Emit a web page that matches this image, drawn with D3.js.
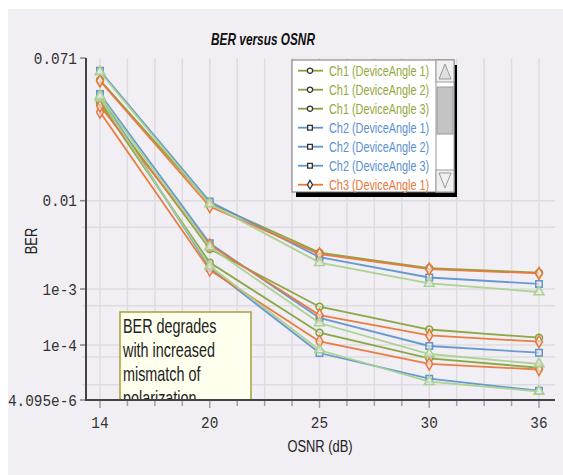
<!DOCTYPE html>
<html>
<head>
<meta charset="utf-8">
<script src="https://cdn.jsdelivr.net/npm/d3@7"></script>
<style>
  body { margin: 0; background: #fff; }
  text { font-family: "Liberation Sans", Arial, sans-serif; }
  .mono { font-family: "Liberation Mono", "DejaVu Sans Mono", monospace; }
</style>
</head>
<body>
<svg id="chart" width="563" height="475"></svg>
<script>
// OSNR points (the x axis is categorical, equally spaced)
var osnr = ["14", "20", "25", "30", "36"];
var channels = ["Ch1", "Ch2", "Ch3", "Ch4"];
var angles = ["DeviceAngle 1", "DeviceAngle 2", "DeviceAngle 3"];
var yTickVals = [0.071, 0.01, 1e-3, 1e-4, 4.095e-6];
var yTickText = ["0.071", "0.01", "1e-3", "1e-4", "4.095e-6"];
var yGridVals = [0.01, 5e-3, 1e-3, 5e-4, 1e-4, 5e-5, 1e-5];

// BER values
var ch1_a1 = [0.0383, 0.00199, 1.66e-4, 4.62e-5, 2.67e-5];
var ch1_a2 = [0.0393, 0.00284, 4.83e-4, 1.89e-4, 1.35e-4];
var ch1_a3 = [0.0525, 0.00942, 0.00258, 0.00172, 0.00153];
var ch2_a1 = [0.0424, 0.00173, 6.28e-5, 1.41e-5, 7.03e-6];
var ch2_a2 = [0.0433, 0.00329, 3.04e-4, 9.44e-5, 6.4e-5];
var ch2_a3 = [0.0596, 0.0098, 0.00229, 0.00135, 0.00114];
var ch3_a1 = [0.0338, 0.00164, 1.155e-4, 3.32e-5, 2.41e-5];
var ch3_a2 = [0.0367, 0.00315, 3.43e-4, 1.48e-4, 1.145e-4];
var ch3_a3 = [0.0518, 0.0086, 0.00249, 0.00168, 0.0015];
var ch4_a1 = [0.0410, 0.00182, 7.48e-5, 1.19e-5, 6.71e-6];
var ch4_a2 = [0.0421, 0.00299, 2.47e-4, 5.93e-5, 3.32e-5];
var ch4_a3 = [0.0586, 0.00918, 0.00199, 0.00116, 8.84e-4];

var noteLines = ["BER degrades", "with increased", "mismatch of", "polarization"];

var chColor = {Ch1: "#86a23c", Ch2: "#5f95cc", Ch3: "#e8773a", Ch4: "#a9d08e"};
var chText = {Ch1: "#93a83a", Ch2: "#5b8fd0", Ch3: "#e8773a", Ch4: "#8fbf6e"};
var chSymbol = {Ch1: d3.symbolCircle, Ch2: d3.symbolSquare, Ch3: d3.symbolDiamond, Ch4: d3.symbolTriangle};

var seriesVals = [ch1_a1, ch1_a2, ch1_a3, ch2_a1, ch2_a2, ch2_a3,
                  ch3_a1, ch3_a2, ch3_a3, ch4_a1, ch4_a2, ch4_a3];
var series = [];
channels.forEach(function(c, ci) {
  angles.forEach(function(a, ai) {
    series.push({ch: c, name: c + " (" + a + ")", values: seriesVals[ci * 3 + ai]});
  });
});

// squeeze text horizontally (the original uses a narrow font)
function narrow(sel, tx, ty, sx) {
  sel.attr("transform", function(d, i) {
    var xx = typeof tx == "function" ? tx(d, i) : tx;
    var yy = typeof ty == "function" ? ty(d, i) : ty;
    return "translate(" + xx + "," + yy + ") scale(" + sx + ",1)";
  });
  return sel;
}

var svg = d3.select("#chart");
var plot = {left: 86, right: 555, top: 58, bottom: 400};

// background panel
svg.append("rect").attr("x", 8).attr("y", 9).attr("width", 555).attr("height", 466)
  .attr("fill", "#f1eff3");

var x = d3.scalePoint().domain(osnr).range([100, 539]);
// piecewise log scale, the axis is not uniform per decade
var y = d3.scaleLog().domain(yTickVals.slice().reverse())
  .range([400, 345, 289, 200.7, 58]);

var step = x.step() / 4;
var xMinor = d3.range(0, (osnr.length - 1) * 4 + 1).map(function(i) { return x(osnr[0]) + i * step; });

// grid
svg.append("g").selectAll("line").data(xMinor).enter().append("line")
  .attr("x1", d => d).attr("x2", d => d)
  .attr("y1", plot.top).attr("y2", plot.bottom)
  .attr("stroke", "#dedcdf").attr("stroke-width", 1.5);
svg.append("g").selectAll("line").data(yGridVals).enter().append("line")
  .attr("x1", 82).attr("x2", plot.right)
  .attr("y1", d => y(d)).attr("y2", d => y(d))
  .attr("stroke", "#dedcdf").attr("stroke-width", 1.5);

// x ticks
svg.append("g").selectAll("line").data(xMinor).enter().append("line")
  .attr("x1", d => d).attr("x2", d => d)
  .attr("y1", plot.bottom).attr("y2", (d, i) => i % 4 == 0 ? 408 : 406)
  .attr("stroke", "#a0a0a0").attr("stroke-width", 1.5);

// y ticks + labels
var yt = svg.append("g").selectAll("g").data(yTickVals).enter().append("g");
yt.append("line").attr("x1", 80).attr("x2", plot.left)
  .attr("y1", d => y(d)).attr("y2", d => y(d))
  .attr("stroke", "#888").attr("stroke-width", 1.5);
narrow(yt.append("text"), 77, d => y(d), 0.9)
  .attr("dy", "0.35em").attr("class", "mono")
  .attr("text-anchor", "end")
  .style("font-size", "16px").attr("fill", "#333")
  .text((d, i) => yTickText[i]);

narrow(svg.append("g").selectAll("text").data(osnr).enter().append("text"), d => x(d), 428, 0.9)
  .attr("text-anchor", "middle").attr("class", "mono")
  .style("font-size", "16px").attr("fill", "#333")
  .text(d => d);

// clip for plot content
svg.append("clipPath").attr("id", "clip").append("rect")
  .attr("x", plot.left).attr("y", plot.top - 10)
  .attr("width", plot.right - plot.left).attr("height", plot.bottom - plot.top + 10);

var content = svg.append("g").attr("clip-path", "url(#clip)");

var line = d3.line().x((d, i) => x(osnr[i])).y(d => y(d));

var sg = content.selectAll("g.series").data(series).enter().append("g").attr("class", "series");
sg.append("path").attr("d", d => line(d.values))
  .attr("fill", "none").attr("stroke", d => chColor[d.ch])
  .attr("stroke-width", 1.8).attr("stroke-opacity", 0.95);
sg.each(function(s) {
  d3.select(this).selectAll("path.mk").data(s.values).enter().append("path")
    .attr("class", "mk")
    .attr("transform", (d, i) => "translate(" + x(osnr[i]) + "," + y(d) + ")")
    .attr("d", d3.symbol().type(chSymbol[s.ch]).size(s.ch == "Ch1" ? 38 : 42))
    .attr("fill", "#f1eff3").attr("fill-opacity", 0.6)
    .attr("stroke", chColor[s.ch]).attr("stroke-width", 1.5);
});

// annotation box
content.append("rect").attr("x", 120).attr("y", 312).attr("width", 131).attr("height", 100)
  .attr("fill", "#ffffee").attr("stroke", "#a3a33c").attr("stroke-width", 1.5);
narrow(content.append("g").selectAll("text").data(noteLines).enter().append("text"),
    123, (d, i) => 333 + i * 24, 0.72)
  .style("font-size", "20px").attr("fill", "#222")
  .text(d => d);

// axes
svg.append("line").attr("x1", plot.left).attr("x2", plot.left)
  .attr("y1", plot.top).attr("y2", plot.bottom + 1)
  .attr("stroke", "#444").attr("stroke-width", 2);
svg.append("line").attr("x1", plot.left - 1).attr("x2", plot.right)
  .attr("y1", plot.bottom).attr("y2", plot.bottom)
  .attr("stroke", "#444").attr("stroke-width", 2.2);

// titles
narrow(svg.append("text"), 263, 45, 0.74).attr("text-anchor", "middle")
  .style("font-size", "16px").style("font-weight", "bold").style("font-style", "italic")
  .attr("fill", "#111").text("BER versus OSNR");
narrow(svg.append("text"), 320, 452, 0.76).attr("text-anchor", "middle")
  .style("font-size", "17px").attr("fill", "#222").text("OSNR (dB)");
svg.append("text").attr("transform", "translate(37,241) rotate(-90) scale(0.76,1)")
  .attr("text-anchor", "middle").style("font-size", "17px").attr("fill", "#222").text("BER");

// legend (scrolling list, only first entries visible)
var lg = svg.append("g");
lg.append("rect").attr("x", 296).attr("y", 65).attr("width", 161).attr("height", 132).attr("fill", "#000");
lg.append("rect").attr("x", 292).attr("y", 60).attr("width", 162).attr("height", 132)
  .attr("fill", "#fff").attr("stroke", "#777").attr("stroke-width", 1);
var shown = series.slice(0, 7);
var le = lg.selectAll("g.le").data(shown).enter().append("g")
  .attr("transform", (d, i) => "translate(0," + (70.7 + i * 19) + ")");
le.append("line").attr("x1", 298).attr("x2", 323)
  .attr("stroke", d => chColor[d.ch]).attr("stroke-width", 1.8);
le.append("path").attr("transform", "translate(310,0)")
  .attr("d", d => d3.symbol().type(chSymbol[d.ch]).size(22)())
  .attr("fill", "#fff").attr("stroke", "#333").attr("stroke-width", 1.3);
narrow(le.append("text"), 329, 5.2, 0.75)
  .style("font-size", "14.5px").attr("fill", d => chText[d.ch])
  .text(d => d.name);

// scrollbar
var sb = lg.append("g");
sb.append("rect").attr("x", 436).attr("y", 60).attr("width", 18).attr("height", 132)
  .attr("fill", "#fff").attr("stroke", "#999");
sb.append("rect").attr("x", 436).attr("y", 60).attr("width", 18).attr("height", 22)
  .attr("fill", "#f0f0f0").attr("stroke", "#999");
sb.append("rect").attr("x", 436).attr("y", 170).attr("width", 18).attr("height", 22)
  .attr("fill", "#f0f0f0").attr("stroke", "#999");
sb.append("rect").attr("x", 437).attr("y", 87).attr("width", 16).attr("height", 47)
  .attr("fill", "#c4c4c4").attr("stroke", "#999");
sb.append("path").attr("d", "M439,79 L445,64 L451,79 Z").attr("fill", "#e0e0e0").attr("stroke", "#999");
sb.append("path").attr("d", "M439,173 L445,188 L451,173 Z").attr("fill", "#f0f0f0").attr("stroke", "#999");
</script>
</body>
</html>
